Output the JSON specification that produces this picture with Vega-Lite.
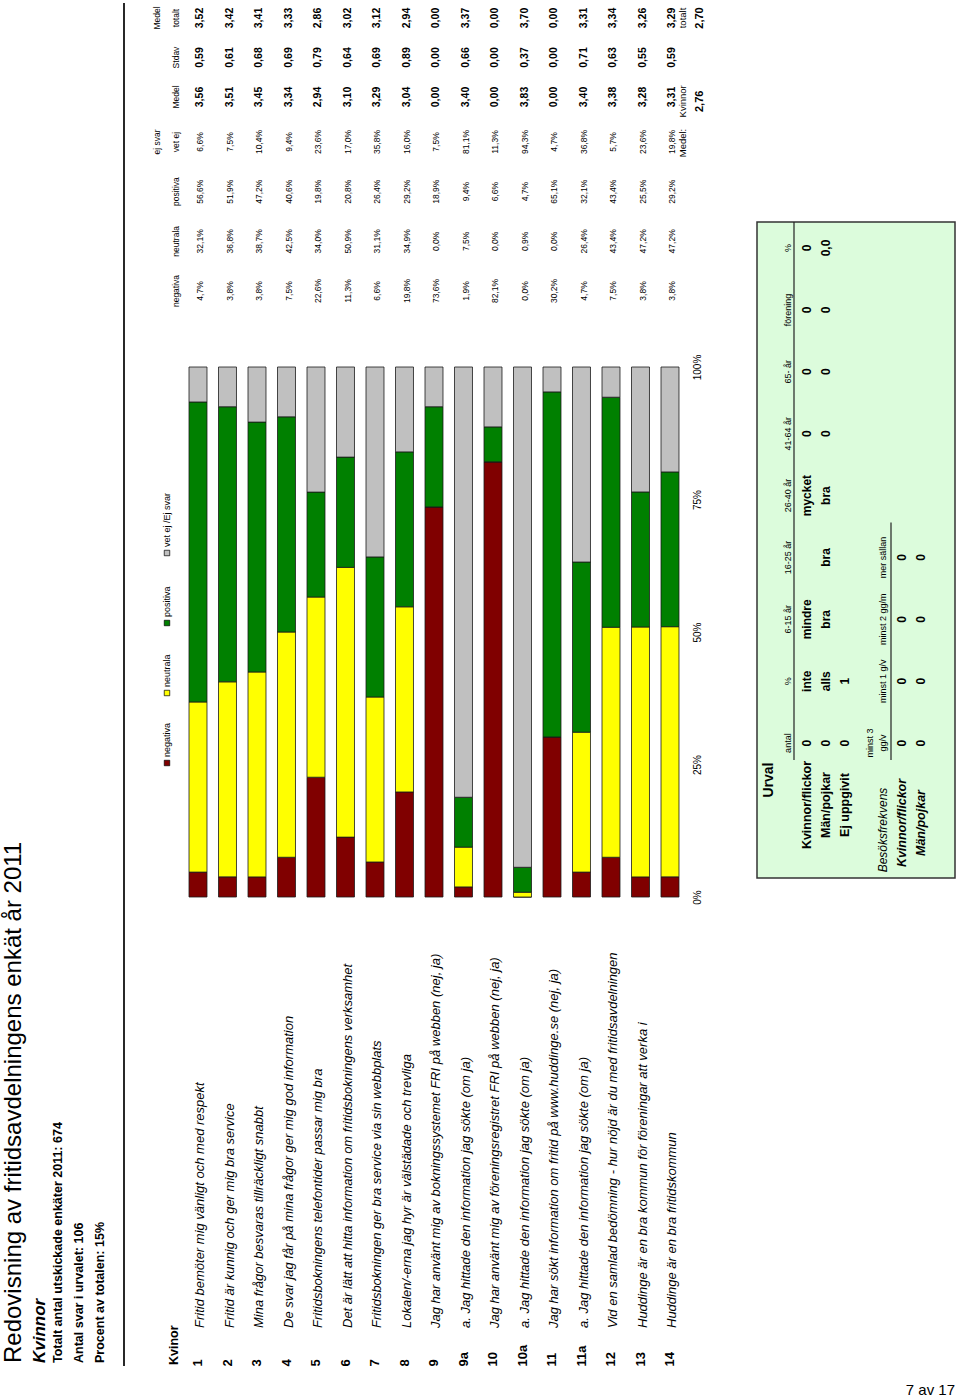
{
  "$schema": "https://vega.github.io/schema/vega-lite/v6.json",
  "width": 960,
  "height": 1399,
  "padding": 0,
  "autosize": {"type": "none"},
  "background": "white",
  "config": {
    "font": "Liberation Sans",
    "view": {"stroke": null},
    "locale": {"number": {"decimal": ",", "thousands": " ", "grouping": [3], "currency": ["", " kr"]}},
    "text": {"color": "#000"}
  },
  "datasets": {
    "t": [
      {"item": "1", "q": "Fritid bemöter mig vänligt och med respekt", "neg": 0.047, "neu": 0.321, "pos": 0.566, "vet": 0.066, "medel": 3.56, "stdav": 0.59, "tot": 3.52},
      {"item": "2", "q": "Fritid är kunnig och ger mig bra service", "neg": 0.038, "neu": 0.368, "pos": 0.519, "vet": 0.075, "medel": 3.51, "stdav": 0.61, "tot": 3.42},
      {"item": "3", "q": "Mina frågor besvaras tillräckligt snabbt", "neg": 0.038, "neu": 0.387, "pos": 0.472, "vet": 0.104, "medel": 3.45, "stdav": 0.68, "tot": 3.41},
      {"item": "4", "q": "De svar jag får på mina frågor ger mig god information", "neg": 0.075, "neu": 0.425, "pos": 0.406, "vet": 0.094, "medel": 3.34, "stdav": 0.69, "tot": 3.33},
      {"item": "5", "q": "Fritidsbokningens telefontider passar mig bra", "neg": 0.226, "neu": 0.34, "pos": 0.198, "vet": 0.236, "medel": 2.94, "stdav": 0.79, "tot": 2.86},
      {"item": "6", "q": "Det är lätt att hitta information om fritidsbokningens verksamhet", "neg": 0.113, "neu": 0.509, "pos": 0.208, "vet": 0.17, "medel": 3.1, "stdav": 0.64, "tot": 3.02},
      {"item": "7", "q": "Fritidsbokningen ger bra service via sin webbplats", "neg": 0.066, "neu": 0.311, "pos": 0.264, "vet": 0.358, "medel": 3.29, "stdav": 0.69, "tot": 3.12},
      {"item": "8", "q": "Lokalen/-erna jag hyr är välstädade och trevliga", "neg": 0.198, "neu": 0.349, "pos": 0.292, "vet": 0.16, "medel": 3.04, "stdav": 0.89, "tot": 2.94},
      {"item": "9", "q": "Jag har använt mig av bokningssystemet FRI på webben (nej, ja)", "neg": 0.736, "neu": 0, "pos": 0.189, "vet": 0.075, "medel": 0, "stdav": 0, "tot": 0},
      {"item": "9a", "q": "a. Jag hittade den information jag sökte  (om ja)", "neg": 0.019, "neu": 0.075, "pos": 0.094, "vet": 0.811, "medel": 3.4, "stdav": 0.66, "tot": 3.37},
      {"item": "10", "q": "Jag har använt mig av föreningsregistret FRI på webben (nej, ja)", "neg": 0.821, "neu": 0, "pos": 0.066, "vet": 0.113, "medel": 0, "stdav": 0, "tot": 0},
      {"item": "10a", "q": "a. Jag hittade den information jag sökte  (om ja)", "neg": 0, "neu": 0.009, "pos": 0.047, "vet": 0.943, "medel": 3.83, "stdav": 0.37, "tot": 3.7},
      {"item": "11", "q": "Jag har sökt information om fritid på www.huddinge.se (nej, ja)", "neg": 0.302, "neu": 0, "pos": 0.651, "vet": 0.047, "medel": 0, "stdav": 0, "tot": 0},
      {"item": "11a", "q": "a. Jag hittade den information jag sökte  (om ja)", "neg": 0.047, "neu": 0.264, "pos": 0.321, "vet": 0.368, "medel": 3.4, "stdav": 0.71, "tot": 3.31},
      {"item": "12", "q": "Vid en samlad bedömning - hur nöjd är du med fritidsavdelningen", "neg": 0.075, "neu": 0.434, "pos": 0.434, "vet": 0.057, "medel": 3.38, "stdav": 0.63, "tot": 3.34},
      {"item": "13", "q": "Huddinge är en bra kommun för föreningar att verka i", "neg": 0.038, "neu": 0.472, "pos": 0.255, "vet": 0.236, "medel": 3.28, "stdav": 0.55, "tot": 3.26},
      {"item": "14", "q": "Huddinge är en bra fritidskommun", "neg": 0.038, "neu": 0.472, "pos": 0.292, "vet": 0.198, "medel": 3.31, "stdav": 0.59, "tot": 3.29}
    ],
    "urval": [
      {"row": "Urval", "col": "label", "text": "Urval", "kind": "title"},
      {"row": "h1", "col": "antal", "text": "antal", "kind": "head"},
      {"row": "h1", "col": "pct", "text": "%", "kind": "head"},
      {"row": "h1", "col": "a6", "text": "6-15 år", "kind": "head"},
      {"row": "h1", "col": "a16", "text": "16-25 år", "kind": "head"},
      {"row": "h1", "col": "a26", "text": "26-40 år", "kind": "head"},
      {"row": "h1", "col": "a41", "text": "41-64 år", "kind": "head"},
      {"row": "h1", "col": "a65", "text": "65- år", "kind": "head"},
      {"row": "h1", "col": "for", "text": "förening", "kind": "head"},
      {"row": "h1", "col": "pct2", "text": "%", "kind": "head"},
      {"row": "kv", "col": "label", "text": "Kvinnor/flickor", "kind": "lab"},
      {"row": "man", "col": "label", "text": "Män/pojkar", "kind": "lab"},
      {"row": "ej", "col": "label", "text": "Ej uppgivit", "kind": "lab"},
      {"row": "kv", "col": "antal", "text": "0", "kind": "val"},
      {"row": "kv", "col": "pct", "text": "inte", "kind": "val"},
      {"row": "kv", "col": "a6", "text": "mindre", "kind": "val"},
      {"row": "kv", "col": "a26", "text": "mycket", "kind": "val"},
      {"row": "kv", "col": "a41", "text": "0", "kind": "val"},
      {"row": "kv", "col": "a65", "text": "0", "kind": "val"},
      {"row": "kv", "col": "for", "text": "0", "kind": "val"},
      {"row": "kv", "col": "pct2", "text": "0", "kind": "val"},
      {"row": "man", "col": "antal", "text": "0", "kind": "val"},
      {"row": "man", "col": "pct", "text": "alls", "kind": "val"},
      {"row": "man", "col": "a6", "text": "bra", "kind": "val"},
      {"row": "man", "col": "a16", "text": "bra", "kind": "val"},
      {"row": "man", "col": "a26", "text": "bra", "kind": "val"},
      {"row": "man", "col": "a41", "text": "0", "kind": "val"},
      {"row": "man", "col": "a65", "text": "0", "kind": "val"},
      {"row": "man", "col": "for", "text": "0", "kind": "val"},
      {"row": "man", "col": "pct2", "text": "0,0", "kind": "val"},
      {"row": "ej", "col": "antal", "text": "0", "kind": "val"},
      {"row": "ej", "col": "pct", "text": "1", "kind": "val"},
      {"row": "h2a", "col": "antal", "text": "minst 3", "kind": "head3"},
      {"row": "h2", "col": "antal", "text": "gg/v", "kind": "head"},
      {"row": "h2", "col": "pct", "text": "minst 1 g/v", "kind": "head"},
      {"row": "h2", "col": "a6", "text": "minst 2 gg/m", "kind": "head"},
      {"row": "h2", "col": "a16", "text": "mer sällan", "kind": "head"},
      {"row": "h2", "col": "label", "text": "Besöksfrekvens", "kind": "ihead"},
      {"row": "kv2", "col": "label", "text": "Kvinnor/flickor", "kind": "ilab"},
      {"row": "man2", "col": "label", "text": "Män/pojkar", "kind": "ilab"},
      {"row": "kv2", "col": "antal", "text": "0", "kind": "val"},
      {"row": "kv2", "col": "pct", "text": "0", "kind": "val"},
      {"row": "kv2", "col": "a6", "text": "0", "kind": "val"},
      {"row": "kv2", "col": "a16", "text": "0", "kind": "val"},
      {"row": "man2", "col": "antal", "text": "0", "kind": "val"},
      {"row": "man2", "col": "pct", "text": "0", "kind": "val"},
      {"row": "man2", "col": "a6", "text": "0", "kind": "val"},
      {"row": "man2", "col": "a16", "text": "0", "kind": "val"}
    ]
  },
  "resolve": {"scale": {"x": "independent", "y": "independent", "color": "independent"}},
  "layer": [
    {
      "data": {"values": [{"part": "Urval"}]},
      "mark": {"type": "rect", "fill": "#dcfcdc", "stroke": "#333333", "strokeWidth": 1.5},
      "encoding": {
        "x": {"field": "part", "type": "nominal", "axis": null, "scale": {"type": "band", "range": [757, 955], "paddingInner": 0, "paddingOuter": 0}},
        "y": {"field": "part", "type": "nominal", "axis": null, "scale": {"type": "band", "range": [222, 878], "paddingInner": 0, "paddingOuter": 0}}
      }
    },
    {
      "data": {"name": "urval"},
      "encoding": {
        "x": {"field": "row", "type": "nominal", "axis": null, "scale": {"type": "point", "domain": ["Urval", "h1", "kv", "man", "ej", "h2a", "h2", "kv2", "man2"], "range": [769, 921], "padding": 0}},
        "y": {"field": "col", "type": "nominal", "axis": null, "scale": {"type": "point", "domain": ["label", "antal", "pct", "a6", "a16", "a26", "a41", "a65", "for", "pct2"], "range": [805, 248], "padding": 0}}
      },
      "layer": [
        {
          "data": {"values": [{}]},
          "mark": {"type": "rule", "color": "#222222", "strokeWidth": 1.2, "xOffset": 6, "yOffset": -26, "y2Offset": 17},
          "encoding": {"x": {"datum": "h1", "type": "nominal"}, "y": {"datum": "pct2", "type": "nominal"}, "y2": {"datum": "antal"}}
        },
        {
          "data": {"values": [{}]},
          "mark": {"type": "rule", "color": "#222222", "strokeWidth": 1.2, "xOffset": 8, "yOffset": -35, "y2Offset": 17},
          "encoding": {"x": {"datum": "h2", "type": "nominal"}, "y": {"datum": "a16", "type": "nominal"}, "y2": {"datum": "antal"}}
        },
        {
          "transform": [{"filter": "datum.kind == 'head'"}],
          "mark": {"type": "text", "angle": 270, "align": "center", "baseline": "middle", "fontSize": 9},
          "encoding": {"text": {"field": "text"}}
        },
        {
          "transform": [{"filter": "datum.kind == 'head3'"}],
          "mark": {"type": "text", "angle": 270, "align": "center", "baseline": "middle", "fontSize": 9, "xOffset": 6},
          "encoding": {"text": {"field": "text"}}
        },
        {
          "transform": [{"filter": "datum.kind == 'val'"}],
          "mark": {"type": "text", "angle": 270, "align": "center", "baseline": "middle", "fontSize": 12, "fontWeight": "bold"},
          "encoding": {"text": {"field": "text"}}
        },
        {
          "transform": [{"filter": "datum.kind == 'lab'"}],
          "mark": {"type": "text", "angle": 270, "align": "center", "baseline": "middle", "fontSize": 12.5, "fontWeight": "bold"},
          "encoding": {"text": {"field": "text"}}
        },
        {
          "transform": [{"filter": "datum.kind == 'title'"}],
          "mark": {"type": "text", "angle": 270, "align": "center", "baseline": "middle", "fontSize": 14, "fontWeight": "bold", "yOffset": -25},
          "encoding": {"text": {"field": "text"}}
        },
        {
          "transform": [{"filter": "datum.kind == 'ihead'"}],
          "mark": {"type": "text", "angle": 270, "align": "center", "baseline": "middle", "fontSize": 12, "fontStyle": "italic", "yOffset": 25},
          "encoding": {"text": {"field": "text"}}
        },
        {
          "transform": [{"filter": "datum.kind == 'ilab'"}],
          "mark": {"type": "text", "angle": 270, "align": "center", "baseline": "middle", "fontSize": 12.5, "fontStyle": "italic", "fontWeight": "bold", "yOffset": 18},
          "encoding": {"text": {"field": "text"}}
        }
      ]
    },
    {
      "data": {"values": [
        {"row": "title", "text": "Redovisning av fritidsavdelningens enkät år 2011", "kind": "title"},
        {"row": "group", "text": "Kvinnor", "kind": "group"},
        {"row": "i1", "text": "Totalt antal utskickade enkäter 2011: 674", "kind": "info"},
        {"row": "i2", "text": "Antal svar i urvalet: 106", "kind": "info"},
        {"row": "i3", "text": "Procent av totalen: 15%", "kind": "info"}
      ]},
      "encoding": {
        "x": {"field": "row", "type": "nominal", "axis": null, "scale": {"type": "point", "domain": ["title", "group", "i1", "i2", "i3", "div"], "range": [14, 119], "padding": 0}},
        "y": {"datum": 0, "type": "quantitative", "axis": null, "scale": {"domain": [0, 1], "range": [1363, 0]}}
      },
      "layer": [
        {
          "transform": [{"filter": "datum.kind == 'title'"}],
          "mark": {"type": "text", "angle": 270, "align": "left", "baseline": "middle", "fontSize": 24},
          "encoding": {"text": {"field": "text"}}
        },
        {
          "transform": [{"filter": "datum.kind == 'group'"}],
          "mark": {"type": "text", "angle": 270, "align": "left", "baseline": "middle", "fontSize": 17, "fontWeight": "bold", "fontStyle": "italic", "xOffset": 5},
          "encoding": {"text": {"field": "text"}}
        },
        {
          "transform": [{"filter": "datum.kind == 'info'"}],
          "mark": {"type": "text", "angle": 270, "align": "left", "baseline": "middle", "fontSize": 12.5, "fontWeight": "bold", "xOffset": 2},
          "encoding": {"text": {"field": "text"}}
        },
        {
          "data": {"values": [{}]},
          "mark": {"type": "rule", "color": "#111111", "strokeWidth": 1.8, "xOffset": 5, "yOffset": 3, "y2Offset": 3},
          "encoding": {"x": {"datum": "div", "type": "nominal"}, "y2": {"datum": 1}}
        }
      ]
    },
    {
      "encoding": {
        "x": {"field": "line", "type": "nominal", "axis": null, "scale": {"type": "point", "domain": ["top", "bottom"], "range": [157, 176], "padding": 0}}
      },
      "resolve": {"scale": {"y": "independent"}},
      "layer": [
        {
          "data": {"values": [
            {"line": "bottom", "col": "neg", "text": "negativa"},
            {"line": "bottom", "col": "neu", "text": "neutrala"},
            {"line": "bottom", "col": "pos", "text": "positiva"},
            {"line": "bottom", "col": "vet", "text": "vet ej"},
            {"line": "top", "col": "vet", "text": "ej svar"}
          ]},
          "mark": {"type": "text", "angle": 270, "align": "center", "baseline": "middle", "fontSize": 8.5},
          "encoding": {
            "y": {"field": "col", "type": "nominal", "axis": null, "scale": {"type": "point", "domain": ["neg", "neu", "pos", "vet"], "range": [291, 142], "padding": 0}},
            "text": {"field": "text"}
          }
        },
        {
          "data": {"values": [
            {"line": "bottom", "col": "medel", "text": "Medel"},
            {"line": "bottom", "col": "stdav", "text": "Stdav"},
            {"line": "bottom", "col": "tot", "text": "totalt"},
            {"line": "top", "col": "tot", "text": "Medel"}
          ]},
          "mark": {"type": "text", "angle": 270, "align": "center", "baseline": "middle", "fontSize": 8.5},
          "encoding": {
            "y": {"field": "col", "type": "nominal", "axis": null, "scale": {"type": "point", "domain": ["medel", "stdav", "tot"], "range": [97, 18], "padding": 0}},
            "text": {"field": "text"}
          }
        },
        {
          "data": {"values": [{"line": "bottom", "text": "Kvinor"}]},
          "mark": {"type": "text", "angle": 270, "align": "left", "baseline": "middle", "fontSize": 12.5, "fontWeight": "bold", "xOffset": -2},
          "encoding": {
            "y": {"datum": 0, "type": "quantitative", "axis": null, "scale": {"domain": [0, 1], "range": [1365, 0]}},
            "text": {"field": "text"}
          }
        }
      ]
    },
    {
      "data": {"values": [{"cat": "negativa"}, {"cat": "neutrala"}, {"cat": "positiva"}, {"cat": "vet ej /Ej svar"}]},
      "encoding": {
        "x": {"datum": 0, "type": "quantitative", "axis": null, "scale": {"domain": [0, 1], "range": [167, 168]}},
        "y": {"field": "cat", "type": "nominal", "axis": null, "scale": {"type": "point", "domain": ["negativa", "neutrala", "positiva", "vet ej /Ej svar"], "range": [763, 553], "padding": 0}}
      },
      "layer": [
        {
          "mark": {"type": "square", "size": 30, "opacity": 1, "filled": true, "stroke": "#000000", "strokeWidth": 0.7},
          "encoding": {"color": {"field": "cat", "type": "nominal", "legend": null, "scale": {"domain": ["negativa", "neutrala", "positiva", "vet ej /Ej svar"], "range": ["#800000", "#ffff00", "#008000", "#c0c0c0"]}}}
        },
        {
          "mark": {"type": "text", "angle": 270, "align": "left", "baseline": "middle", "fontSize": 9, "yOffset": -6},
          "encoding": {"text": {"field": "cat"}}
        }
      ]
    },
    {
      "data": {"name": "t"},
      "encoding": {
        "x": {
          "field": "item", "type": "nominal", "sort": null,
          "scale": {"type": "band", "domain": ["1", "2", "3", "4", "5", "6", "7", "8", "9", "9a", "10", "10a", "11", "11a", "12", "13", "14"], "range": [183.25, 684.75], "paddingInner": 0.39, "paddingOuter": 0.195},
          "axis": {"orient": "bottom", "offset": -33, "title": null, "domain": false, "ticks": false, "tickSize": 0, "labelPadding": 0, "labelAngle": 270, "labelAlign": "left", "labelBaseline": "middle", "labelFontSize": 13, "labelFontWeight": "bold", "labelColor": "#000000", "labelFlush": false, "labelOverlap": false, "labelBound": false, "grid": false}
        }
      },
      "resolve": {"scale": {"y": "independent"}},
      "layer": [
        {
          "transform": [{"fold": ["neg", "neu", "pos", "vet"], "as": ["key", "value"]}],
          "mark": {"type": "bar", "stroke": "#1a1a1a", "strokeWidth": 0.8},
          "encoding": {
            "y": {
              "field": "value", "type": "quantitative", "stack": "normalize",
              "scale": {"domain": [0, 1], "range": [897, 367], "nice": false},
              "axis": {"orient": "right", "offset": -263, "values": [0, 0.25, 0.5, 0.75, 1], "format": ".0%", "labelAngle": 270, "labelAlign": "center", "labelBaseline": "middle", "labelPadding": 0, "ticks": false, "tickSize": 0, "domain": false, "grid": false, "title": null, "labelFontSize": 10, "labelColor": "#000000", "labelFlush": false, "labelOverlap": false, "labelBound": false}
            },
            "color": {"field": "key", "type": "nominal", "legend": null, "scale": {"domain": ["neg", "neu", "pos", "vet"], "range": ["#800000", "#ffff00", "#008000", "#c0c0c0"]}},
            "order": {"field": "key", "type": "ordinal", "sort": "ascending"}
          }
        },
        {
          "transform": [{"fold": ["neg", "neu", "pos", "vet"], "as": ["key", "value"]}],
          "mark": {"type": "text", "angle": 270, "align": "center", "baseline": "middle", "fontSize": 8.5, "xOffset": 2},
          "encoding": {
            "y": {"field": "key", "type": "nominal", "axis": null, "scale": {"type": "point", "domain": ["neg", "neu", "pos", "vet"], "range": [291, 142], "padding": 0}},
            "text": {"field": "value", "type": "quantitative", "format": ".1%"}
          }
        },
        {
          "transform": [{"fold": ["medel", "stdav", "tot"], "as": ["key", "value"]}],
          "mark": {"type": "text", "angle": 270, "align": "center", "baseline": "middle", "fontSize": 10.5, "fontWeight": "bold", "xOffset": 2},
          "encoding": {
            "y": {"field": "key", "type": "nominal", "axis": null, "scale": {"type": "point", "domain": ["medel", "stdav", "tot"], "range": [97, 18], "padding": 0}},
            "text": {"field": "value", "type": "quantitative", "format": ".2f"}
          }
        },
        {
          "mark": {"type": "text", "angle": 270, "align": "left", "baseline": "middle", "fontSize": 13, "fontStyle": "italic", "xOffset": 2},
          "encoding": {
            "y": {"datum": 0, "type": "quantitative", "axis": null, "scale": {"domain": [0, 1], "range": [1328, 0]}},
            "text": {"field": "q"}
          }
        }
      ]
    },
    {
      "encoding": {
        "x": {"field": "row", "type": "nominal", "axis": null, "scale": {"type": "point", "domain": ["lab", "val"], "range": [683, 700], "padding": 0}},
        "y": {"field": "col", "type": "nominal", "axis": null, "scale": {"type": "point", "domain": ["vet", "medel", "stdav", "tot"], "range": [143, 18], "padding": 0}}
      },
      "layer": [
        {
          "data": {"values": [
            {"row": "lab", "col": "vet", "text": "Medel:"},
            {"row": "lab", "col": "medel", "text": "Kvinnor"},
            {"row": "lab", "col": "tot", "text": "totalt"}
          ]},
          "mark": {"type": "text", "angle": 270, "align": "center", "baseline": "middle", "fontSize": 9.5},
          "encoding": {"text": {"field": "text"}}
        },
        {
          "data": {"values": [
            {"row": "val", "col": "medel", "value": 2.76},
            {"row": "val", "col": "tot", "value": 2.7}
          ]},
          "mark": {"type": "text", "angle": 270, "align": "center", "baseline": "middle", "fontSize": 11, "fontWeight": "bold"},
          "encoding": {"text": {"field": "value", "type": "quantitative", "format": ".2f"}}
        }
      ]
    },
    {
      "data": {"values": [{"text": "7 av 17"}]},
      "mark": {"type": "text", "align": "right", "baseline": "middle", "fontSize": 15},
      "encoding": {
        "x": {"datum": 1, "type": "quantitative", "axis": null, "scale": {"domain": [0, 1], "range": [0, 955]}},
        "y": {"datum": 1, "type": "quantitative", "axis": null, "scale": {"domain": [0, 1], "range": [0, 1390]}},
        "text": {"field": "text"}
      }
    }
  ]
}
